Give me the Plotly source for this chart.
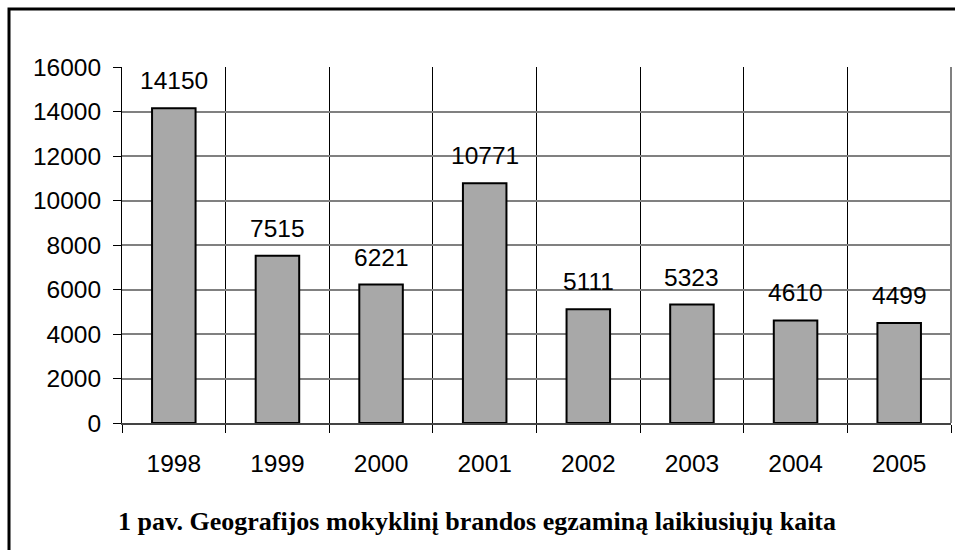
import plotly.graph_objects as go

years = ["1998", "1999", "2000", "2001", "2002", "2003", "2004", "2005"]
counts = [14150, 7515, 6221, 10771, 5111, 5323, 4610, 4499]
y_ticks = [0, 2000, 4000, 6000, 8000, 10000, 12000, 14000, 16000]
caption = "1 pav. Geografijos mokyklinį brandos egzaminą laikiusiųjų kaita"

fig = go.Figure()
fig.add_trace(go.Bar(
    x=years, y=counts, width=0.42,
    marker=dict(
        color="#a2a2a2",
        line=dict(color="black", width=2),
        pattern=dict(shape=".", fgcolor="#333333", bgcolor="#c8c8c8", size=2, solidity=0.5),
    ),
    showlegend=False,
))

for i, v in enumerate(counts):
    fig.add_annotation(x=i, y=v, text=str(v), showarrow=False, yanchor="bottom",
                       yshift=12, font=dict(family="Liberation Sans, Arial", size=24.5, color="black"))

fig.add_annotation(xref="paper", yref="paper", x=0.428, y=-0.278, text="<b>" + caption + "</b>",
                   showarrow=False, xanchor="center", yanchor="middle",
                   font=dict(family="Liberation Serif, Times New Roman", size=26, color="black"))

# outer frame (cut off at right and bottom)
fig.add_shape(type="rect", xref="paper", yref="paper", x0=-0.1363, x1=1.2, y0=-0.6, y1=1.163,
              line=dict(color="black", width=3), layer="above")
# right border of plot area
fig.add_shape(type="line", xref="paper", yref="paper", x0=1, x1=1, y0=0, y1=1,
              line=dict(color="#808080", width=2))

fig.update_layout(
    width=955, height=550,
    margin=dict(l=122, r=4, t=67, b=127),
    paper_bgcolor="white", plot_bgcolor="white",
    font=dict(family="Liberation Sans, Arial", size=24.5, color="black"),
    xaxis=dict(
        type="category", range=[-0.5, len(years) - 0.5],
        tickson="boundaries", ticks="outside", ticklen=8, tickcolor="black",
        showgrid=True, gridcolor="black", gridwidth=1,
        showline=True, linecolor="#444444", linewidth=2,
        ticklabelstandoff=18, tickfont=dict(size=24.5), tickangle=0,
    ),
    yaxis=dict(
        range=[0, 16000], tickvals=y_ticks, tickformat="d", ticks="outside", ticklen=8, tickcolor="black",
        showgrid=True, gridcolor="#808080", gridwidth=1.5,
        showline=True, linecolor="black", linewidth=1, zeroline=False,
        ticklabelstandoff=7, tickfont=dict(size=24.5),
    ),
)

fig.write_html("out.html", config={"displayModeBar": False},
               post_script="document.body.style.margin='0';")
